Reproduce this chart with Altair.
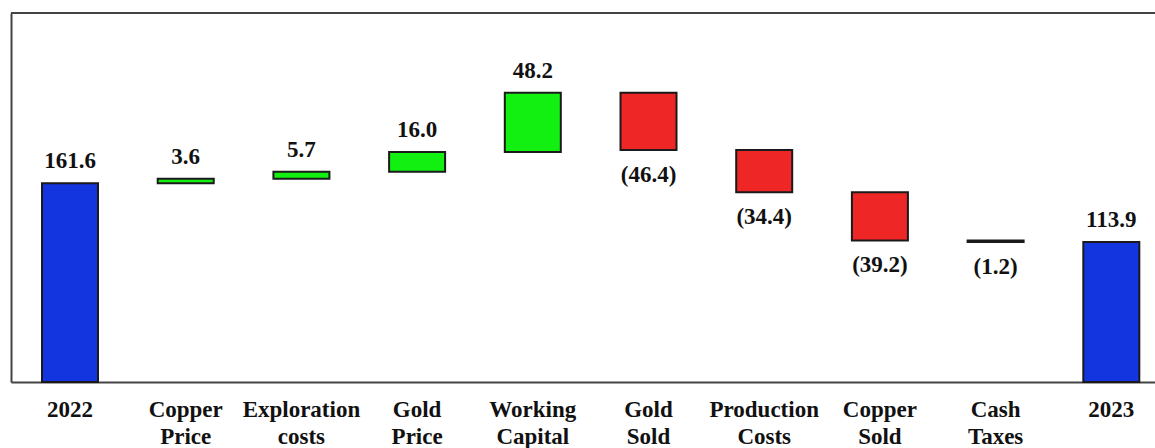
import altair as alt
import pandas as pd

# Waterfall bridge: 2022 -> 2023
categories = ["2022", "Copper Price", "Exploration costs", "Gold Price",
              "Working Capital", "Gold Sold", "Production Costs",
              "Copper Sold", "Cash Taxes", "2023"]
amounts = [161.6, 3.6, 5.7, 16.0, 48.2, -46.4, -34.4, -39.2, -1.2, 113.9]
kinds = ["total", "up", "up", "up", "up", "down", "down", "down", "down", "total"]

rows = []
running = 0.0
for cat, amt, kind in zip(categories, amounts, kinds):
    if kind == "total":
        start, end = 0.0, amt
        running = amt
    else:
        start, end = running, running + amt
        running = end
    label = f"({abs(amt):.1f})" if amt < 0 else f"{amt:.1f}"
    rows.append({"category": cat, "amount": amt, "kind": kind,
                 "start": start, "end": end, "label": label})
df = pd.DataFrame(rows)

FONT = "'Liberation Serif', 'Times New Roman', serif"
W, H = 1144, 369

x_enc = alt.X("category:N", sort=categories, title=None,
              scale=alt.Scale(paddingInner=0.516, paddingOuter=0.2018, align=0.664),
              axis=alt.Axis(labelAngle=0, ticks=False, labelFont=FONT,
                            labelFontSize=23, labelFontWeight="bold",
                            labelColor="#111", labelPadding=16,
                            labelLineHeight=27,
                            labelExpr="split(datum.label, ' ')",
                            domainColor="#444", domainWidth=2))
y_scale = alt.Scale(domain=[0, 300], nice=False, zero=True)
y_enc = alt.Y("start:Q", scale=y_scale, title=None,
              axis=alt.Axis(labels=False, ticks=False, grid=False,
                            domainColor="#444", domainWidth=2))

base = alt.Chart(df)

bars = base.mark_bar(stroke="#1a1a1a", strokeWidth=2).encode(
    x=x_enc,
    y=y_enc,
    y2="end:Q",
    color=alt.Color("kind:N", legend=None,
                    scale=alt.Scale(domain=["total", "up", "down"],
                                    range=["#1235e0", "#12f012", "#ee2626"])),
)

up_labels = base.transform_filter("datum.amount >= 0").mark_text(
    font=FONT, fontSize=23, fontWeight="bold", color="#111",
    baseline="alphabetic", dy=-15,
).encode(x=alt.X("category:N", sort=categories),
         y=alt.Y("end:Q", scale=y_scale), text="label:N")

down_labels = base.transform_filter("datum.amount < 0").mark_text(
    font=FONT, fontSize=23, fontWeight="bold", color="#111",
    baseline="alphabetic", dy=32,
).encode(x=alt.X("category:N", sort=categories),
         y=alt.Y("end:Q", scale=y_scale), text="label:N")

top_line = alt.Chart(pd.DataFrame({"v": [0]})).mark_rule(
    color="#444", strokeWidth=2
).encode(x=alt.value(0), x2=alt.value(W), y=alt.value(0))

chart = alt.layer(bars, up_labels, down_labels, top_line).properties(
    width=W, height=H,
    autosize=alt.AutoSizeParams(type="none"),
    padding={"left": 11, "top": 13, "right": 0, "bottom": 66},
).configure_view(stroke=None).configure(background="white")

chart.save("out.html", embed_options={"renderer": "svg", "actions": False})
